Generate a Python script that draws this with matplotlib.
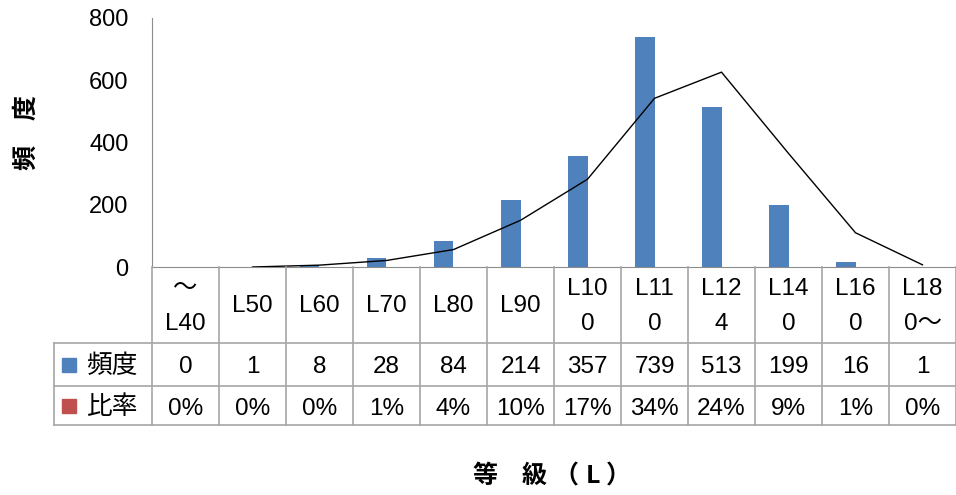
import numpy as np
import matplotlib.pyplot as plt
import matplotlib.transforms as mtransforms
from matplotlib.lines import Line2D
from matplotlib.patches import Rectangle

# Grade classes (header row of the data table, split over two lines)
grade_line1 = ["～", "L50", "L60", "L70", "L80", "L90", "L10", "L11", "L12", "L14", "L16", "L18"]
grade_line2 = ["L40", "", "", "", "", "", "0", "0", "4", "0", "0", "0～"]

# Frequency per grade and share in percent
freq = [0, 1, 8, 28, 84, 214, 357, 739, 513, 199, 16, 1]
ratio_pct = [0, 0, 0, 1, 4, 10, 17, 34, 24, 9, 1, 0]

# Fitted distribution curve (no value for the first class)
curve = [np.nan, 0, 6, 21, 56, 150, 282, 542, 626, 365, 110, 7]

y_ticks = [0, 200, 400, 600, 800]

BLUE = "#4F81BD"
RED = "#C0504D"
AXIS_GREY = "#8C8C8C"
GRID_GREY = "#A6A6A6"

LATIN = ["Liberation Sans", "Noto Sans CJK JP"]
CJK = ["Noto Sans CJK JP", "DejaVu Sans"]

W, H = 956, 495
fig = plt.figure(figsize=(W / 100, H / 100), dpi=100)

def fy(px):
    return 1 - px / H

def fx(px):
    return px / W

ax = fig.add_axes([fx(152), fy(267), fx(W - 152), (267 - 18) / H])

x = np.arange(len(freq))
bw = 0.284
ax.bar(x - bw / 2, freq, bw, color=BLUE, zorder=2)
ax.bar(x + bw / 2, np.array(ratio_pct) / 100.0, bw, color=RED, zorder=2)
ax.plot(x, curve, color="black", lw=1.0, zorder=3)

ax.set_xlim(-0.5, len(freq) - 0.5)
ax.set_ylim(0, 800)
ax.set_yticks(y_ticks)
ax.set_xticks([])
ax.tick_params(axis="y", length=0, pad=17, labelsize=17)
for lab in ax.get_yticklabels():
    lab.set_fontfamily(LATIN)
for s in ("top", "right"):
    ax.spines[s].set_visible(False)
ax.spines["left"].set_color(AXIS_GREY)
ax.spines["bottom"].set_color(AXIS_GREY)

# Vertical axis title, one rotated character at a time
for ch, yc in (("頻", 157), ("度", 108)):
    fig.text(fx(26), fy(yc), ch, rotation=90, ha="center", va="center",
             fontfamily=CJK, fontsize=18, fontweight="bold")

# Data table below the plot
bt = mtransforms.blended_transform_factory(ax.transData, fig.transFigure)
n = len(freq)
for i in range(n + 1):
    xb = i - 0.5
    fig.add_artist(Line2D([xb, xb], [fy(267), fy(425)], transform=bt,
                          color=GRID_GREY, lw=1.2))
fig.add_artist(Line2D([fx(54), fx(54)], [fy(343), fy(425)], transform=fig.transFigure,
                      color=GRID_GREY, lw=1.2))
for yp in (343, 386, 425):
    fig.add_artist(Line2D([fx(54), 1], [fy(yp), fy(yp)], transform=fig.transFigure,
                          color=GRID_GREY, lw=1.2))

for i in range(n):
    if grade_line2[i]:
        fig.text(i, fy(289), grade_line1[i], transform=bt, ha="center", va="center",
                 fontsize=17.5, fontfamily=LATIN)
        fig.text(i, fy(324), grade_line2[i], transform=bt, ha="center", va="center",
                 fontsize=17.5, fontfamily=LATIN)
    else:
        fig.text(i, fy(306), grade_line1[i], transform=bt, ha="center", va="center",
                 fontsize=17.5, fontfamily=LATIN)
    fig.text(i, fy(367), f"{freq[i]}", transform=bt, ha="center", va="center",
             fontsize=17.5, fontfamily=LATIN)
    fig.text(i, fy(409), f"{ratio_pct[i]}%", transform=bt, ha="center", va="center",
             fontsize=17.5, fontfamily=LATIN)

# Row headers with series keys
for yc, col, name in ((365, BLUE, "頻度"), (406, RED, "比率")):
    fig.add_artist(Rectangle((fx(62), fy(yc + 7)), 14 / W, 14 / H,
                             transform=fig.transFigure, color=col))
    fig.text(fx(86), fy(yc + 1), name, ha="left", va="center",
             fontsize=18.5, fontfamily=CJK)

# Horizontal axis title, spread out character by character
for txt, xc in (("等", 485), ("級", 534), ("（", 566), ("L", 593), ("）", 618)):
    fig.text(fx(xc), fy(476), txt, ha="center", va="center",
             fontsize=18, fontfamily=CJK, fontweight="bold")

fig.savefig("out.png", dpi=100)
